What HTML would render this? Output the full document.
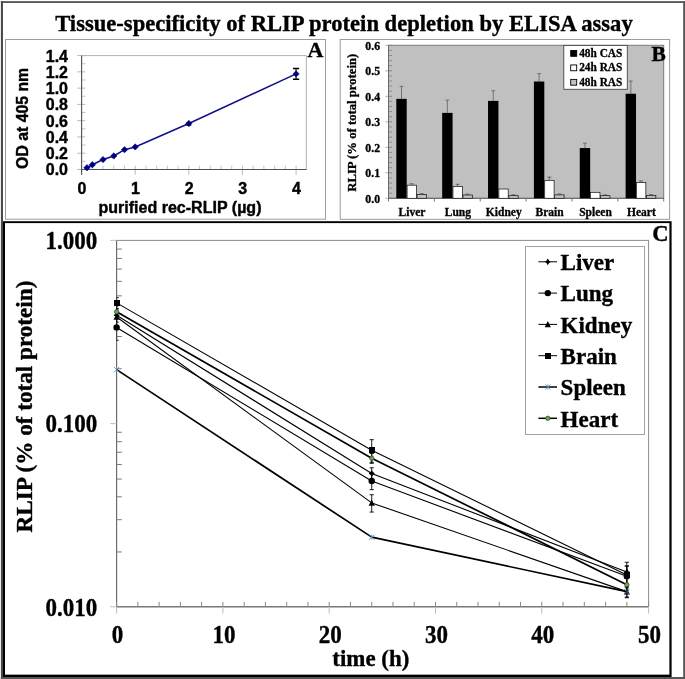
<!DOCTYPE html>
<html><head><meta charset="utf-8"><title>Figure</title>
<style>html,body{margin:0;padding:0;background:#fff}body{width:685px;height:679px;overflow:hidden;font-family:"Liberation Serif",serif}svg{will-change:transform;transform:translateZ(0)}svg text{white-space:pre}</style></head>
<body>
<svg width="685" height="679" viewBox="0 0 685 679" style="display:block">
<rect x="0" y="0" width="685" height="679" fill="#fff"/>
<rect x="0.9" y="1.2" width="2.05" height="678" fill="#474747"/>
<rect x="0.9" y="1.2" width="684.1" height="1.7" fill="#474747"/>
<rect x="683.2" y="1.2" width="2" height="678" fill="#555"/>
<rect x="0.9" y="677" width="684.1" height="2.2" fill="#555"/>
<text x="55.2" y="30.7" font-family="Liberation Serif" font-weight="bold" stroke="#000" stroke-width="0.35" font-size="22.6" textLength="577.5" lengthAdjust="spacingAndGlyphs" fill="#000">Tissue-specificity of RLIP protein depletion by ELISA assay</text>
<rect x="5.5" y="39.5" width="320" height="179.7" fill="#fff" stroke="#9c9c9c" stroke-width="1"/>
<path d="M81.6 55.6H306.3V169.45" fill="none" stroke="#b0b0b0" stroke-width="1"/>
<line x1="77.1" y1="169.45" x2="85.39999999999999" y2="169.45" stroke="#bcbcbc" stroke-width="1"/>
<text transform="translate(68 175.45) scale(1 1.03)" font-family="Liberation Sans" font-weight="bold" stroke="#000" stroke-width="0.4" font-size="16" text-anchor="end" fill="#000">0.0</text>
<line x1="81.6" y1="161.32" x2="85.39999999999999" y2="161.32" stroke="#c4c4c4" stroke-width="1"/>
<line x1="77.1" y1="153.19" x2="85.39999999999999" y2="153.19" stroke="#bcbcbc" stroke-width="1"/>
<text transform="translate(68 159.19) scale(1 1.03)" font-family="Liberation Sans" font-weight="bold" stroke="#000" stroke-width="0.4" font-size="16" text-anchor="end" fill="#000">0.2</text>
<line x1="81.6" y1="145.05" x2="85.39999999999999" y2="145.05" stroke="#c4c4c4" stroke-width="1"/>
<line x1="77.1" y1="136.92" x2="85.39999999999999" y2="136.92" stroke="#bcbcbc" stroke-width="1"/>
<text transform="translate(68 142.92) scale(1 1.03)" font-family="Liberation Sans" font-weight="bold" stroke="#000" stroke-width="0.4" font-size="16" text-anchor="end" fill="#000">0.4</text>
<line x1="81.6" y1="128.79" x2="85.39999999999999" y2="128.79" stroke="#c4c4c4" stroke-width="1"/>
<line x1="77.1" y1="120.66" x2="85.39999999999999" y2="120.66" stroke="#bcbcbc" stroke-width="1"/>
<text transform="translate(68 126.66) scale(1 1.03)" font-family="Liberation Sans" font-weight="bold" stroke="#000" stroke-width="0.4" font-size="16" text-anchor="end" fill="#000">0.6</text>
<line x1="81.6" y1="112.52" x2="85.39999999999999" y2="112.52" stroke="#c4c4c4" stroke-width="1"/>
<line x1="77.1" y1="104.39" x2="85.39999999999999" y2="104.39" stroke="#bcbcbc" stroke-width="1"/>
<text transform="translate(68 110.39) scale(1 1.03)" font-family="Liberation Sans" font-weight="bold" stroke="#000" stroke-width="0.4" font-size="16" text-anchor="end" fill="#000">0.8</text>
<line x1="81.6" y1="96.26" x2="85.39999999999999" y2="96.26" stroke="#c4c4c4" stroke-width="1"/>
<line x1="77.1" y1="88.13" x2="85.39999999999999" y2="88.13" stroke="#bcbcbc" stroke-width="1"/>
<text transform="translate(68 94.13) scale(1 1.03)" font-family="Liberation Sans" font-weight="bold" stroke="#000" stroke-width="0.4" font-size="16" text-anchor="end" fill="#000">1.0</text>
<line x1="81.6" y1="80.00" x2="85.39999999999999" y2="80.00" stroke="#c4c4c4" stroke-width="1"/>
<line x1="77.1" y1="71.86" x2="85.39999999999999" y2="71.86" stroke="#bcbcbc" stroke-width="1"/>
<text transform="translate(68 77.86) scale(1 1.03)" font-family="Liberation Sans" font-weight="bold" stroke="#000" stroke-width="0.4" font-size="16" text-anchor="end" fill="#000">1.2</text>
<line x1="81.6" y1="63.73" x2="85.39999999999999" y2="63.73" stroke="#c4c4c4" stroke-width="1"/>
<line x1="77.1" y1="55.60" x2="85.39999999999999" y2="55.60" stroke="#bcbcbc" stroke-width="1"/>
<text transform="translate(68 61.60) scale(1 1.03)" font-family="Liberation Sans" font-weight="bold" stroke="#000" stroke-width="0.4" font-size="16" text-anchor="end" fill="#000">1.4</text>
<line x1="81.60" y1="165.75" x2="81.60" y2="174.75" stroke="#bcbcbc" stroke-width="1"/>
<text transform="translate(81.90 194.0) scale(1 1.03)" font-family="Liberation Sans" font-weight="bold" stroke="#000" stroke-width="0.4" font-size="16" text-anchor="middle" fill="#000">0</text>
<line x1="92.32" y1="165.75" x2="92.32" y2="169.45" stroke="#c4c4c4" stroke-width="1"/>
<line x1="103.05" y1="165.75" x2="103.05" y2="169.45" stroke="#c4c4c4" stroke-width="1"/>
<line x1="113.77" y1="165.75" x2="113.77" y2="169.45" stroke="#c4c4c4" stroke-width="1"/>
<line x1="124.50" y1="165.75" x2="124.50" y2="169.45" stroke="#c4c4c4" stroke-width="1"/>
<line x1="135.22" y1="165.75" x2="135.22" y2="174.75" stroke="#bcbcbc" stroke-width="1"/>
<text transform="translate(135.52 194.0) scale(1 1.03)" font-family="Liberation Sans" font-weight="bold" stroke="#000" stroke-width="0.4" font-size="16" text-anchor="middle" fill="#000">1</text>
<line x1="145.94" y1="165.75" x2="145.94" y2="169.45" stroke="#c4c4c4" stroke-width="1"/>
<line x1="156.67" y1="165.75" x2="156.67" y2="169.45" stroke="#c4c4c4" stroke-width="1"/>
<line x1="167.39" y1="165.75" x2="167.39" y2="169.45" stroke="#c4c4c4" stroke-width="1"/>
<line x1="178.12" y1="165.75" x2="178.12" y2="169.45" stroke="#c4c4c4" stroke-width="1"/>
<line x1="188.84" y1="165.75" x2="188.84" y2="174.75" stroke="#bcbcbc" stroke-width="1"/>
<text transform="translate(189.14 194.0) scale(1 1.03)" font-family="Liberation Sans" font-weight="bold" stroke="#000" stroke-width="0.4" font-size="16" text-anchor="middle" fill="#000">2</text>
<line x1="199.56" y1="165.75" x2="199.56" y2="169.45" stroke="#c4c4c4" stroke-width="1"/>
<line x1="210.29" y1="165.75" x2="210.29" y2="169.45" stroke="#c4c4c4" stroke-width="1"/>
<line x1="221.01" y1="165.75" x2="221.01" y2="169.45" stroke="#c4c4c4" stroke-width="1"/>
<line x1="231.74" y1="165.75" x2="231.74" y2="169.45" stroke="#c4c4c4" stroke-width="1"/>
<line x1="242.46" y1="165.75" x2="242.46" y2="174.75" stroke="#bcbcbc" stroke-width="1"/>
<text transform="translate(242.76 194.0) scale(1 1.03)" font-family="Liberation Sans" font-weight="bold" stroke="#000" stroke-width="0.4" font-size="16" text-anchor="middle" fill="#000">3</text>
<line x1="253.18" y1="165.75" x2="253.18" y2="169.45" stroke="#c4c4c4" stroke-width="1"/>
<line x1="263.91" y1="165.75" x2="263.91" y2="169.45" stroke="#c4c4c4" stroke-width="1"/>
<line x1="274.63" y1="165.75" x2="274.63" y2="169.45" stroke="#c4c4c4" stroke-width="1"/>
<line x1="285.36" y1="165.75" x2="285.36" y2="169.45" stroke="#c4c4c4" stroke-width="1"/>
<line x1="296.08" y1="165.75" x2="296.08" y2="174.75" stroke="#bcbcbc" stroke-width="1"/>
<text transform="translate(296.38 194.0) scale(1 1.03)" font-family="Liberation Sans" font-weight="bold" stroke="#000" stroke-width="0.4" font-size="16" text-anchor="middle" fill="#000">4</text>
<path d="M81.6 55.6V174.75M81.1 169.45H306.6" fill="none" stroke="#505050" stroke-width="1.1"/>
<polyline points="86.96,167.74 92.32,164.73 103.05,159.53 113.77,155.95 124.50,149.69 135.22,146.92 188.84,123.50 296.08,73.90" fill="none" stroke="#10108a" stroke-width="1.5"/>
<path d="M296.08 68.50V79.30" stroke="#000" stroke-width="1.1" fill="none"/><path d="M292.98 68.50h6.2M292.98 79.30h6.2" stroke="#000" stroke-width="1.5" fill="none"/>
<path d="M188.84 121.50V125.50M186.34 125.50h5" stroke="#111" stroke-width="0.8" fill="none"/>
<path d="M86.96 164.59L90.11 167.74L86.96 170.89L83.81 167.74Z" fill="#000080" stroke="#000080" stroke-width="0.6"/>
<path d="M92.32 161.58L95.47 164.73L92.32 167.88L89.17 164.73Z" fill="#000080" stroke="#000080" stroke-width="0.6"/>
<path d="M103.05 156.38L106.20 159.53L103.05 162.68L99.90 159.53Z" fill="#000080" stroke="#000080" stroke-width="0.6"/>
<path d="M113.77 152.80L116.92 155.95L113.77 159.10L110.62 155.95Z" fill="#000080" stroke="#000080" stroke-width="0.6"/>
<path d="M124.50 146.54L127.65 149.69L124.50 152.84L121.35 149.69Z" fill="#000080" stroke="#000080" stroke-width="0.6"/>
<path d="M135.22 143.77L138.37 146.92L135.22 150.07L132.07 146.92Z" fill="#000080" stroke="#000080" stroke-width="0.6"/>
<path d="M188.84 120.35L191.99 123.50L188.84 126.65L185.69 123.50Z" fill="#000080" stroke="#000080" stroke-width="0.6"/>
<path d="M296.08 70.75L299.23 73.90L296.08 77.05L292.93 73.90Z" fill="#000080" stroke="#000080" stroke-width="0.6"/>
<text x="98.5" y="212.6" font-family="Liberation Sans" font-weight="bold" stroke="#000" stroke-width="0.4" font-size="16" textLength="163" lengthAdjust="spacingAndGlyphs" fill="#000">purified rec-RLIP (µg)</text>
<text transform="translate(28.4,168.9) rotate(-90)" font-family="Liberation Sans" font-weight="bold" stroke="#000" stroke-width="0.4" font-size="16" textLength="101" lengthAdjust="spacingAndGlyphs" fill="#000">OD at 405 nm</text>
<text x="307.4" y="56.6" font-family="Liberation Serif" font-weight="bold" stroke="#000" stroke-width="0.35" font-size="22" fill="#000">A</text>
<rect x="340.2" y="39.5" width="329.4" height="179.8" fill="#fff" stroke="#9c9c9c" stroke-width="1"/>
<rect x="388.5" y="45.3" width="275.20000000000005" height="153.0" fill="#c0c0c0" stroke="#7a7a7a" stroke-width="1"/>
<line x1="385.3" y1="198.30" x2="388.5" y2="198.30" stroke="#b4b4b4" stroke-width="1"/>
<line x1="388.5" y1="198.30" x2="392.0" y2="198.30" stroke="#858585" stroke-width="1"/>
<text transform="translate(380.1 202.50) scale(1 1.06)" font-family="Liberation Serif" font-weight="bold" stroke="#000" stroke-width="0.3" font-size="11.8" text-anchor="end" fill="#000">0.0</text>
<line x1="388.5" y1="193.20" x2="392.0" y2="193.20" stroke="#8c8c8c" stroke-width="1"/>
<line x1="388.5" y1="188.10" x2="392.0" y2="188.10" stroke="#8c8c8c" stroke-width="1"/>
<line x1="388.5" y1="183.00" x2="392.0" y2="183.00" stroke="#8c8c8c" stroke-width="1"/>
<line x1="388.5" y1="177.90" x2="392.0" y2="177.90" stroke="#8c8c8c" stroke-width="1"/>
<line x1="385.3" y1="172.80" x2="388.5" y2="172.80" stroke="#b4b4b4" stroke-width="1"/>
<line x1="388.5" y1="172.80" x2="392.0" y2="172.80" stroke="#858585" stroke-width="1"/>
<text transform="translate(380.1 177.00) scale(1 1.06)" font-family="Liberation Serif" font-weight="bold" stroke="#000" stroke-width="0.3" font-size="11.8" text-anchor="end" fill="#000">0.1</text>
<line x1="388.5" y1="167.70" x2="392.0" y2="167.70" stroke="#8c8c8c" stroke-width="1"/>
<line x1="388.5" y1="162.60" x2="392.0" y2="162.60" stroke="#8c8c8c" stroke-width="1"/>
<line x1="388.5" y1="157.50" x2="392.0" y2="157.50" stroke="#8c8c8c" stroke-width="1"/>
<line x1="388.5" y1="152.40" x2="392.0" y2="152.40" stroke="#8c8c8c" stroke-width="1"/>
<line x1="385.3" y1="147.30" x2="388.5" y2="147.30" stroke="#b4b4b4" stroke-width="1"/>
<line x1="388.5" y1="147.30" x2="392.0" y2="147.30" stroke="#858585" stroke-width="1"/>
<text transform="translate(380.1 151.50) scale(1 1.06)" font-family="Liberation Serif" font-weight="bold" stroke="#000" stroke-width="0.3" font-size="11.8" text-anchor="end" fill="#000">0.2</text>
<line x1="388.5" y1="142.20" x2="392.0" y2="142.20" stroke="#8c8c8c" stroke-width="1"/>
<line x1="388.5" y1="137.10" x2="392.0" y2="137.10" stroke="#8c8c8c" stroke-width="1"/>
<line x1="388.5" y1="132.00" x2="392.0" y2="132.00" stroke="#8c8c8c" stroke-width="1"/>
<line x1="388.5" y1="126.90" x2="392.0" y2="126.90" stroke="#8c8c8c" stroke-width="1"/>
<line x1="385.3" y1="121.80" x2="388.5" y2="121.80" stroke="#b4b4b4" stroke-width="1"/>
<line x1="388.5" y1="121.80" x2="392.0" y2="121.80" stroke="#858585" stroke-width="1"/>
<text transform="translate(380.1 126.00) scale(1 1.06)" font-family="Liberation Serif" font-weight="bold" stroke="#000" stroke-width="0.3" font-size="11.8" text-anchor="end" fill="#000">0.3</text>
<line x1="388.5" y1="116.70" x2="392.0" y2="116.70" stroke="#8c8c8c" stroke-width="1"/>
<line x1="388.5" y1="111.60" x2="392.0" y2="111.60" stroke="#8c8c8c" stroke-width="1"/>
<line x1="388.5" y1="106.50" x2="392.0" y2="106.50" stroke="#8c8c8c" stroke-width="1"/>
<line x1="388.5" y1="101.40" x2="392.0" y2="101.40" stroke="#8c8c8c" stroke-width="1"/>
<line x1="385.3" y1="96.30" x2="388.5" y2="96.30" stroke="#b4b4b4" stroke-width="1"/>
<line x1="388.5" y1="96.30" x2="392.0" y2="96.30" stroke="#858585" stroke-width="1"/>
<text transform="translate(380.1 100.50) scale(1 1.06)" font-family="Liberation Serif" font-weight="bold" stroke="#000" stroke-width="0.3" font-size="11.8" text-anchor="end" fill="#000">0.4</text>
<line x1="388.5" y1="91.20" x2="392.0" y2="91.20" stroke="#8c8c8c" stroke-width="1"/>
<line x1="388.5" y1="86.10" x2="392.0" y2="86.10" stroke="#8c8c8c" stroke-width="1"/>
<line x1="388.5" y1="81.00" x2="392.0" y2="81.00" stroke="#8c8c8c" stroke-width="1"/>
<line x1="388.5" y1="75.90" x2="392.0" y2="75.90" stroke="#8c8c8c" stroke-width="1"/>
<line x1="385.3" y1="70.80" x2="388.5" y2="70.80" stroke="#b4b4b4" stroke-width="1"/>
<line x1="388.5" y1="70.80" x2="392.0" y2="70.80" stroke="#858585" stroke-width="1"/>
<text transform="translate(380.1 75.00) scale(1 1.06)" font-family="Liberation Serif" font-weight="bold" stroke="#000" stroke-width="0.3" font-size="11.8" text-anchor="end" fill="#000">0.5</text>
<line x1="388.5" y1="65.70" x2="392.0" y2="65.70" stroke="#8c8c8c" stroke-width="1"/>
<line x1="388.5" y1="60.60" x2="392.0" y2="60.60" stroke="#8c8c8c" stroke-width="1"/>
<line x1="388.5" y1="55.50" x2="392.0" y2="55.50" stroke="#8c8c8c" stroke-width="1"/>
<line x1="388.5" y1="50.40" x2="392.0" y2="50.40" stroke="#8c8c8c" stroke-width="1"/>
<line x1="385.3" y1="45.30" x2="388.5" y2="45.30" stroke="#b4b4b4" stroke-width="1"/>
<line x1="388.5" y1="45.30" x2="392.0" y2="45.30" stroke="#858585" stroke-width="1"/>
<text transform="translate(380.1 49.50) scale(1 1.06)" font-family="Liberation Serif" font-weight="bold" stroke="#000" stroke-width="0.3" font-size="11.8" text-anchor="end" fill="#000">0.6</text>
<line x1="388.50" y1="198.3" x2="388.50" y2="201.5" stroke="#777" stroke-width="1"/>
<line x1="434.37" y1="198.3" x2="434.37" y2="201.5" stroke="#777" stroke-width="1"/>
<line x1="480.23" y1="198.3" x2="480.23" y2="201.5" stroke="#777" stroke-width="1"/>
<line x1="526.10" y1="198.3" x2="526.10" y2="201.5" stroke="#777" stroke-width="1"/>
<line x1="571.97" y1="198.3" x2="571.97" y2="201.5" stroke="#777" stroke-width="1"/>
<line x1="617.83" y1="198.3" x2="617.83" y2="201.5" stroke="#777" stroke-width="1"/>
<line x1="663.70" y1="198.3" x2="663.70" y2="201.5" stroke="#777" stroke-width="1"/>
<line x1="388.5" y1="45.3" x2="388.5" y2="198.3" stroke="#686868" stroke-width="1"/>
<line x1="388.5" y1="198.3" x2="663.7" y2="198.3" stroke="#686868" stroke-width="1"/>
<path d="M401.50 98.85V86.36M399.60 86.36h3.8" stroke="#5a5a5a" stroke-width="0.75" fill="none"/>
<rect x="396.30" y="98.85" width="10.4" height="99.45" fill="#000"/>
<path d="M411.70 184.79V183.77M409.80 183.77h3.8" stroke="#4a4a4a" stroke-width="0.75" fill="none"/>
<rect x="407.10" y="185.19" width="9.40" height="13.11" fill="#fff" stroke="#1a1a1a" stroke-width="0.75"/>
<path d="M421.70 194.22V193.71M419.80 193.71h3.8" stroke="#4a4a4a" stroke-width="0.75" fill="none"/>
<rect x="417.10" y="194.62" width="9.40" height="3.68" fill="#c0c0c0" stroke="#1a1a1a" stroke-width="0.75"/>
<text x="412.03" y="215.6" font-family="Liberation Serif" font-weight="bold" stroke="#000" stroke-width="0.3" font-size="11.5" text-anchor="middle" fill="#000">Liver</text>
<path d="M447.37 112.88V100.13M445.47 100.13h3.8" stroke="#5a5a5a" stroke-width="0.75" fill="none"/>
<rect x="442.17" y="112.88" width="10.4" height="85.43" fill="#000"/>
<path d="M457.57 186.06V184.28M455.67 184.28h3.8" stroke="#4a4a4a" stroke-width="0.75" fill="none"/>
<rect x="452.97" y="186.46" width="9.40" height="11.84" fill="#fff" stroke="#1a1a1a" stroke-width="0.75"/>
<path d="M467.57 194.60V194.09M465.67 194.09h3.8" stroke="#4a4a4a" stroke-width="0.75" fill="none"/>
<rect x="462.97" y="195.00" width="9.40" height="3.30" fill="#c0c0c0" stroke="#1a1a1a" stroke-width="0.75"/>
<text x="457.90" y="215.6" font-family="Liberation Serif" font-weight="bold" stroke="#000" stroke-width="0.3" font-size="11.5" text-anchor="middle" fill="#000">Lung</text>
<path d="M493.23 100.89V90.69M491.33 90.69h3.8" stroke="#5a5a5a" stroke-width="0.75" fill="none"/>
<rect x="488.03" y="100.89" width="10.4" height="97.41" fill="#000"/>
<rect x="498.83" y="189.01" width="9.40" height="9.29" fill="#fff" stroke="#1a1a1a" stroke-width="0.75"/>
<path d="M513.43 195.24V194.86M511.53 194.86h3.8" stroke="#4a4a4a" stroke-width="0.75" fill="none"/>
<rect x="508.83" y="195.64" width="9.40" height="2.66" fill="#c0c0c0" stroke="#1a1a1a" stroke-width="0.75"/>
<text x="503.77" y="215.6" font-family="Liberation Serif" font-weight="bold" stroke="#000" stroke-width="0.3" font-size="11.5" text-anchor="middle" fill="#000">Kidney</text>
<path d="M539.10 81.51V73.61M537.20 73.61h3.8" stroke="#5a5a5a" stroke-width="0.75" fill="none"/>
<rect x="533.90" y="81.51" width="10.4" height="116.79" fill="#000"/>
<path d="M549.30 179.94V177.14M547.40 177.14h3.8" stroke="#4a4a4a" stroke-width="0.75" fill="none"/>
<rect x="544.70" y="180.34" width="9.40" height="17.96" fill="#fff" stroke="#1a1a1a" stroke-width="0.75"/>
<path d="M559.30 194.48V193.97M557.40 193.97h3.8" stroke="#4a4a4a" stroke-width="0.75" fill="none"/>
<rect x="554.70" y="194.88" width="9.40" height="3.42" fill="#c0c0c0" stroke="#1a1a1a" stroke-width="0.75"/>
<text x="549.63" y="215.6" font-family="Liberation Serif" font-weight="bold" stroke="#000" stroke-width="0.3" font-size="11.5" text-anchor="middle" fill="#000">Brain</text>
<path d="M584.97 148.06V143.22M583.07 143.22h3.8" stroke="#5a5a5a" stroke-width="0.75" fill="none"/>
<rect x="579.77" y="148.06" width="10.4" height="50.24" fill="#000"/>
<rect x="590.57" y="192.33" width="9.40" height="5.97" fill="#fff" stroke="#1a1a1a" stroke-width="0.75"/>
<path d="M605.17 195.24V194.86M603.27 194.86h3.8" stroke="#4a4a4a" stroke-width="0.75" fill="none"/>
<rect x="600.57" y="195.64" width="9.40" height="2.66" fill="#c0c0c0" stroke="#1a1a1a" stroke-width="0.75"/>
<text x="595.50" y="215.6" font-family="Liberation Serif" font-weight="bold" stroke="#000" stroke-width="0.3" font-size="11.5" text-anchor="middle" fill="#000">Spleen</text>
<path d="M630.83 93.75V81.00M628.93 81.00h3.8" stroke="#5a5a5a" stroke-width="0.75" fill="none"/>
<rect x="625.63" y="93.75" width="10.4" height="104.55" fill="#000"/>
<path d="M641.03 181.98V180.96M639.13 180.96h3.8" stroke="#4a4a4a" stroke-width="0.75" fill="none"/>
<rect x="636.43" y="182.38" width="9.40" height="15.92" fill="#fff" stroke="#1a1a1a" stroke-width="0.75"/>
<path d="M651.03 195.11V194.60M649.13 194.60h3.8" stroke="#4a4a4a" stroke-width="0.75" fill="none"/>
<rect x="646.43" y="195.51" width="9.40" height="2.79" fill="#c0c0c0" stroke="#1a1a1a" stroke-width="0.75"/>
<text x="641.37" y="215.6" font-family="Liberation Serif" font-weight="bold" stroke="#000" stroke-width="0.3" font-size="11.5" text-anchor="middle" fill="#000">Heart</text>
<rect x="563.8" y="45.4" width="63.5" height="43.9" fill="#fff" stroke="#444" stroke-width="0.9"/>
<rect x="570.7" y="50.50" width="6" height="5.8" fill="#000" stroke="#000" stroke-width="0.9"/>
<text x="579.2" y="56.90" font-family="Liberation Serif" font-weight="bold" stroke="#000" stroke-width="0.3" font-size="11.7" textLength="43.2" lengthAdjust="spacingAndGlyphs" fill="#000">48h CAS</text>
<rect x="570.7" y="64.95" width="6" height="5.8" fill="#fff" stroke="#000" stroke-width="0.9"/>
<text x="579.2" y="71.35" font-family="Liberation Serif" font-weight="bold" stroke="#000" stroke-width="0.3" font-size="11.7" textLength="43.2" lengthAdjust="spacingAndGlyphs" fill="#000">24h RAS</text>
<rect x="570.7" y="79.40" width="6" height="5.8" fill="#c0c0c0" stroke="#000" stroke-width="0.9"/>
<text x="579.2" y="85.80" font-family="Liberation Serif" font-weight="bold" stroke="#000" stroke-width="0.3" font-size="11.7" textLength="43.2" lengthAdjust="spacingAndGlyphs" fill="#000">48h RAS</text>
<text transform="translate(356,191.75) rotate(-90)" font-family="Liberation Serif" font-weight="bold" stroke="#000" stroke-width="0.3" font-size="13" textLength="138" lengthAdjust="spacingAndGlyphs" fill="#000">RLIP (% of total protein)</text>
<text x="651.5" y="60.8" font-family="Liberation Serif" font-weight="bold" stroke="#000" stroke-width="0.35" font-size="21.5" fill="#000">B</text>
<rect x="2.95" y="221.2" width="668.65" height="455.8" fill="#000"/>
<rect x="5.0" y="223.1" width="664.4" height="451.55" fill="#fff"/>
<rect x="116.6" y="240.4" width="532.0" height="366.4" fill="none" stroke="#8c8c8c" stroke-width="1"/>
<line x1="116.6" y1="240.4" x2="116.6" y2="606.8" stroke="#666" stroke-width="1"/>
<line x1="116.6" y1="606.8" x2="648.6" y2="606.8" stroke="#666" stroke-width="1"/>
<line x1="110.1" y1="240.40" x2="116.6" y2="240.40" stroke="#c2c2c2" stroke-width="1"/>
<text transform="translate(97.3 249.10) scale(1 1.065)" font-family="Liberation Serif" font-weight="bold" stroke="#000" stroke-width="0.35" font-size="23" text-anchor="end" fill="#000">1.000</text>
<line x1="116.6" y1="368.75" x2="121.8" y2="368.75" stroke="#7a7a7a" stroke-width="1"/>
<line x1="116.6" y1="336.49" x2="121.8" y2="336.49" stroke="#7a7a7a" stroke-width="1"/>
<line x1="116.6" y1="313.60" x2="121.8" y2="313.60" stroke="#7a7a7a" stroke-width="1"/>
<line x1="116.6" y1="295.85" x2="121.8" y2="295.85" stroke="#7a7a7a" stroke-width="1"/>
<line x1="116.6" y1="281.34" x2="121.8" y2="281.34" stroke="#7a7a7a" stroke-width="1"/>
<line x1="116.6" y1="269.08" x2="121.8" y2="269.08" stroke="#7a7a7a" stroke-width="1"/>
<line x1="116.6" y1="258.45" x2="121.8" y2="258.45" stroke="#7a7a7a" stroke-width="1"/>
<line x1="116.6" y1="249.08" x2="121.8" y2="249.08" stroke="#7a7a7a" stroke-width="1"/>
<line x1="110.1" y1="423.60" x2="116.6" y2="423.60" stroke="#c2c2c2" stroke-width="1"/>
<text transform="translate(97.3 432.30) scale(1 1.065)" font-family="Liberation Serif" font-weight="bold" stroke="#000" stroke-width="0.35" font-size="23" text-anchor="end" fill="#000">0.100</text>
<line x1="116.6" y1="551.95" x2="121.8" y2="551.95" stroke="#7a7a7a" stroke-width="1"/>
<line x1="116.6" y1="519.69" x2="121.8" y2="519.69" stroke="#7a7a7a" stroke-width="1"/>
<line x1="116.6" y1="496.80" x2="121.8" y2="496.80" stroke="#7a7a7a" stroke-width="1"/>
<line x1="116.6" y1="479.05" x2="121.8" y2="479.05" stroke="#7a7a7a" stroke-width="1"/>
<line x1="116.6" y1="464.54" x2="121.8" y2="464.54" stroke="#7a7a7a" stroke-width="1"/>
<line x1="116.6" y1="452.28" x2="121.8" y2="452.28" stroke="#7a7a7a" stroke-width="1"/>
<line x1="116.6" y1="441.65" x2="121.8" y2="441.65" stroke="#7a7a7a" stroke-width="1"/>
<line x1="116.6" y1="432.28" x2="121.8" y2="432.28" stroke="#7a7a7a" stroke-width="1"/>
<line x1="110.1" y1="606.80" x2="116.6" y2="606.80" stroke="#c2c2c2" stroke-width="1"/>
<text transform="translate(97.3 615.50) scale(1 1.065)" font-family="Liberation Serif" font-weight="bold" stroke="#000" stroke-width="0.35" font-size="23" text-anchor="end" fill="#000">0.010</text>
<path d="M116.60 601.8V606.8" stroke="#8a8a8a" stroke-width="1"/><path d="M116.60 606.8V613.5999999999999" stroke="#bdbdbd" stroke-width="1"/>
<text transform="translate(117.60 643.1) scale(1 1.065)" font-family="Liberation Serif" font-weight="bold" stroke="#000" stroke-width="0.35" font-size="23" text-anchor="middle" fill="#000">0</text>
<line x1="137.86" y1="601.8" x2="137.86" y2="606.8" stroke="#8a8a8a" stroke-width="1"/>
<line x1="159.12" y1="601.8" x2="159.12" y2="606.8" stroke="#8a8a8a" stroke-width="1"/>
<line x1="180.38" y1="601.8" x2="180.38" y2="606.8" stroke="#8a8a8a" stroke-width="1"/>
<line x1="201.64" y1="601.8" x2="201.64" y2="606.8" stroke="#8a8a8a" stroke-width="1"/>
<path d="M222.90 601.8V606.8" stroke="#8a8a8a" stroke-width="1"/><path d="M222.90 606.8V613.5999999999999" stroke="#bdbdbd" stroke-width="1"/>
<text transform="translate(223.90 643.1) scale(1 1.065)" font-family="Liberation Serif" font-weight="bold" stroke="#000" stroke-width="0.35" font-size="23" text-anchor="middle" fill="#000">10</text>
<line x1="244.16" y1="601.8" x2="244.16" y2="606.8" stroke="#8a8a8a" stroke-width="1"/>
<line x1="265.42" y1="601.8" x2="265.42" y2="606.8" stroke="#8a8a8a" stroke-width="1"/>
<line x1="286.68" y1="601.8" x2="286.68" y2="606.8" stroke="#8a8a8a" stroke-width="1"/>
<line x1="307.94" y1="601.8" x2="307.94" y2="606.8" stroke="#8a8a8a" stroke-width="1"/>
<path d="M329.20 601.8V606.8" stroke="#8a8a8a" stroke-width="1"/><path d="M329.20 606.8V613.5999999999999" stroke="#bdbdbd" stroke-width="1"/>
<text transform="translate(330.20 643.1) scale(1 1.065)" font-family="Liberation Serif" font-weight="bold" stroke="#000" stroke-width="0.35" font-size="23" text-anchor="middle" fill="#000">20</text>
<line x1="350.46" y1="601.8" x2="350.46" y2="606.8" stroke="#8a8a8a" stroke-width="1"/>
<line x1="371.72" y1="601.8" x2="371.72" y2="606.8" stroke="#8a8a8a" stroke-width="1"/>
<line x1="392.98" y1="601.8" x2="392.98" y2="606.8" stroke="#8a8a8a" stroke-width="1"/>
<line x1="414.24" y1="601.8" x2="414.24" y2="606.8" stroke="#8a8a8a" stroke-width="1"/>
<path d="M435.50 601.8V606.8" stroke="#8a8a8a" stroke-width="1"/><path d="M435.50 606.8V613.5999999999999" stroke="#bdbdbd" stroke-width="1"/>
<text transform="translate(436.50 643.1) scale(1 1.065)" font-family="Liberation Serif" font-weight="bold" stroke="#000" stroke-width="0.35" font-size="23" text-anchor="middle" fill="#000">30</text>
<line x1="456.76" y1="601.8" x2="456.76" y2="606.8" stroke="#8a8a8a" stroke-width="1"/>
<line x1="478.02" y1="601.8" x2="478.02" y2="606.8" stroke="#8a8a8a" stroke-width="1"/>
<line x1="499.28" y1="601.8" x2="499.28" y2="606.8" stroke="#8a8a8a" stroke-width="1"/>
<line x1="520.54" y1="601.8" x2="520.54" y2="606.8" stroke="#8a8a8a" stroke-width="1"/>
<path d="M541.80 601.8V606.8" stroke="#8a8a8a" stroke-width="1"/><path d="M541.80 606.8V613.5999999999999" stroke="#bdbdbd" stroke-width="1"/>
<text transform="translate(542.80 643.1) scale(1 1.065)" font-family="Liberation Serif" font-weight="bold" stroke="#000" stroke-width="0.35" font-size="23" text-anchor="middle" fill="#000">40</text>
<line x1="563.06" y1="601.8" x2="563.06" y2="606.8" stroke="#8a8a8a" stroke-width="1"/>
<line x1="584.32" y1="601.8" x2="584.32" y2="606.8" stroke="#8a8a8a" stroke-width="1"/>
<line x1="605.58" y1="601.8" x2="605.58" y2="606.8" stroke="#8a8a8a" stroke-width="1"/>
<line x1="626.84" y1="601.8" x2="626.84" y2="606.8" stroke="#8a8a8a" stroke-width="1"/>
<path d="M648.60 601.8V606.8" stroke="#8a8a8a" stroke-width="1"/><path d="M648.60 606.8V613.5999999999999" stroke="#bdbdbd" stroke-width="1"/>
<text transform="translate(649.60 643.1) scale(1 1.065)" font-family="Liberation Serif" font-weight="bold" stroke="#000" stroke-width="0.35" font-size="23" text-anchor="middle" fill="#000">50</text>
<text x="332.3" y="665.5" font-family="Liberation Serif" font-weight="bold" stroke="#000" stroke-width="0.35" font-size="23" textLength="77" lengthAdjust="spacingAndGlyphs" fill="#000">time (h)</text>
<text transform="translate(32.3,532.4) rotate(-90)" font-family="Liberation Serif" font-weight="bold" stroke="#000" stroke-width="0.35" font-size="23.2" textLength="251.8" lengthAdjust="spacingAndGlyphs" fill="#000">RLIP (% of total protein)</text>
<text x="652.3" y="241.3" font-family="Liberation Serif" font-weight="bold" stroke="#000" stroke-width="0.35" font-size="22.5" fill="#000">C</text>
<clipPath id="cpc"><rect x="116.6" y="240.4" width="542.0" height="366.4"/></clipPath>
<polyline points="116.60,315.32 371.72,473.51 626.84,571.93" fill="none" stroke="#000" stroke-width="1.1" stroke-linejoin="round"/>
<path d="M116.60 305.90V326.00M114.50 305.90h4.2M114.50 326.00h4.2" stroke="#000" stroke-width="0.9" fill="none" clip-path="url(#cpc)"/>
<path d="M371.72 467.77V479.71M369.62 467.77h4.2M369.62 479.71h4.2" stroke="#000" stroke-width="0.9" fill="none"/>
<path d="M626.84 566.00V578.34M624.74 566.00h4.2M624.74 578.34h4.2" stroke="#000" stroke-width="0.9" fill="none"/>
<path d="M116.60 311.92Q117.60 314.32 119.70 315.32Q117.60 316.32 116.60 318.72Q115.60 316.32 113.50 315.32Q115.60 314.32 116.60 311.92Z" fill="#000"/>
<path d="M371.72 470.11Q372.72 472.51 374.82 473.51Q372.72 474.51 371.72 476.91Q370.72 474.51 368.62 473.51Q370.72 472.51 371.72 470.11Z" fill="#000"/>
<path d="M626.84 568.53Q627.84 570.93 629.94 571.93Q627.84 572.93 626.84 575.33Q625.84 572.93 623.74 571.93Q625.84 570.93 626.84 568.53Z" fill="#000"/>
<polyline points="116.60,327.41 371.72,481.01 626.84,576.15" fill="none" stroke="#000" stroke-width="1.1" stroke-linejoin="round"/>
<path d="M116.60 316.34V340.27M114.50 316.34h4.2M114.50 340.27h4.2" stroke="#000" stroke-width="0.9" fill="none" clip-path="url(#cpc)"/>
<path d="M371.72 473.22V489.65M369.62 473.22h4.2M369.62 489.65h4.2" stroke="#000" stroke-width="0.9" fill="none"/>
<path d="M626.84 566.00V587.78M624.74 566.00h4.2M624.74 587.78h4.2" stroke="#000" stroke-width="0.9" fill="none"/>
<circle cx="116.60" cy="327.41" r="3.20" fill="#000"/>
<circle cx="371.72" cy="481.01" r="3.20" fill="#000"/>
<circle cx="626.84" cy="576.15" r="3.20" fill="#000"/>
<polyline points="116.60,316.97 371.72,502.92 626.84,591.63" fill="none" stroke="#000" stroke-width="1.1" stroke-linejoin="round"/>
<path d="M116.60 309.04V325.77M114.50 309.04h4.2M114.50 325.77h4.2" stroke="#000" stroke-width="0.9" fill="none" clip-path="url(#cpc)"/>
<path d="M371.72 494.73V512.05M369.62 494.73h4.2M369.62 512.05h4.2" stroke="#000" stroke-width="0.9" fill="none"/>
<path d="M626.84 586.54V597.08M624.74 586.54h4.2M624.74 597.08h4.2" stroke="#000" stroke-width="0.9" fill="none"/>
<path d="M116.60 313.67L119.70 319.87L113.50 319.87Z" fill="#000"/>
<path d="M371.72 499.62L374.82 505.82L368.62 505.82Z" fill="#000"/>
<path d="M626.84 588.33L629.94 594.53L623.74 594.53Z" fill="#000"/>
<polyline points="116.60,302.88 371.72,450.18 626.84,575.07" fill="none" stroke="#000" stroke-width="1.1" stroke-linejoin="round"/>
<path d="M116.60 297.64V308.48M114.50 297.64h4.2M114.50 308.48h4.2" stroke="#000" stroke-width="0.9" fill="none" clip-path="url(#cpc)"/>
<path d="M371.72 439.68V462.28M369.62 439.68h4.2M369.62 462.28h4.2" stroke="#000" stroke-width="0.9" fill="none"/>
<path d="M626.84 562.28V590.33M624.74 562.28h4.2M624.74 590.33h4.2" stroke="#000" stroke-width="0.9" fill="none"/>
<rect x="114" y="300" width="6" height="6" fill="#000"/>
<rect x="369" y="447" width="6" height="6" fill="#000"/>
<rect x="624" y="572" width="6" height="6" fill="#000"/>
<polyline points="116.60,369.65 371.72,537.15 626.84,591.63" fill="none" stroke="#000" stroke-width="1.7" stroke-linejoin="round"/>
<path d="M114.00 367.05L119.20 372.25M114.00 372.25L119.20 367.05M116.60 367.05V372.25" stroke="#5b92cf" stroke-width="0.9" fill="none"/>
<path d="M369.12 534.55L374.32 539.75M369.12 539.75L374.32 534.55M371.72 534.55V539.75" stroke="#5b92cf" stroke-width="0.9" fill="none"/>
<path d="M624.24 589.03L629.44 594.23M624.24 594.23L629.44 589.03M626.84 589.03V594.23" stroke="#5b92cf" stroke-width="0.9" fill="none"/>
<polyline points="116.60,311.73 371.72,458.24 626.84,584.71" fill="none" stroke="#000" stroke-width="1.7" stroke-linejoin="round"/>
<path d="M116.60 302.53V322.13M114.50 302.53h4.2M114.50 322.13h4.2" stroke="#000" stroke-width="0.9" fill="none" clip-path="url(#cpc)"/>
<path d="M371.72 453.47V463.32M369.62 453.47h4.2M369.62 463.32h4.2" stroke="#000" stroke-width="0.9" fill="none"/>
<path d="M626.84 573.49V597.78M624.74 573.49h4.2M624.74 597.78h4.2" stroke="#000" stroke-width="0.9" fill="none"/>
<circle cx="116.60" cy="311.73" r="2.20" fill="#6aa84f" stroke="#2d3d22" stroke-width="0.7"/>
<circle cx="371.72" cy="458.24" r="2.20" fill="#6aa84f" stroke="#2d3d22" stroke-width="0.7"/>
<circle cx="626.84" cy="584.71" r="2.20" fill="#6aa84f" stroke="#2d3d22" stroke-width="0.7"/>
<rect x="525.5" y="246.5" width="119" height="188" fill="#fff" stroke="#a2a2a2" stroke-width="1"/>
<line x1="538.4" y1="261.80" x2="557" y2="261.80" stroke="#000" stroke-width="1.0"/>
<path d="M547.80 258.40Q548.80 260.80 550.90 261.80Q548.80 262.80 547.80 265.20Q546.80 262.80 544.70 261.80Q546.80 260.80 547.80 258.40Z" fill="#000"/>
<text x="560.6" y="270.00" font-family="Liberation Serif" font-weight="bold" stroke="#000" stroke-width="0.35" font-size="23" fill="#000">Liver</text>
<line x1="538.4" y1="293.10" x2="557" y2="293.10" stroke="#000" stroke-width="1.0"/>
<circle cx="547.80" cy="293.10" r="3.20" fill="#000"/>
<text x="560.6" y="301.30" font-family="Liberation Serif" font-weight="bold" stroke="#000" stroke-width="0.35" font-size="23" fill="#000">Lung</text>
<line x1="538.4" y1="324.40" x2="557" y2="324.40" stroke="#000" stroke-width="1.0"/>
<path d="M547.80 321.10L550.90 327.30L544.70 327.30Z" fill="#000"/>
<text x="560.6" y="332.60" font-family="Liberation Serif" font-weight="bold" stroke="#000" stroke-width="0.35" font-size="23" fill="#000">Kidney</text>
<line x1="538.4" y1="355.70" x2="557" y2="355.70" stroke="#000" stroke-width="1.0"/>
<rect x="545" y="353" width="6" height="6" fill="#000"/>
<text x="560.6" y="363.90" font-family="Liberation Serif" font-weight="bold" stroke="#000" stroke-width="0.35" font-size="23" fill="#000">Brain</text>
<line x1="538.4" y1="387.00" x2="557" y2="387.00" stroke="#000" stroke-width="1.5"/>
<path d="M545.20 384.40L550.40 389.60M545.20 389.60L550.40 384.40M547.80 384.40V389.60" stroke="#5b92cf" stroke-width="0.9" fill="none"/>
<text x="560.6" y="395.20" font-family="Liberation Serif" font-weight="bold" stroke="#000" stroke-width="0.35" font-size="23" fill="#000">Spleen</text>
<line x1="538.4" y1="418.30" x2="557" y2="418.30" stroke="#000" stroke-width="1.5"/>
<circle cx="547.80" cy="418.30" r="2.20" fill="#6aa84f" stroke="#2d3d22" stroke-width="0.7"/>
<text x="560.6" y="426.50" font-family="Liberation Serif" font-weight="bold" stroke="#000" stroke-width="0.35" font-size="23" fill="#000">Heart</text>
</svg>
</body></html>
